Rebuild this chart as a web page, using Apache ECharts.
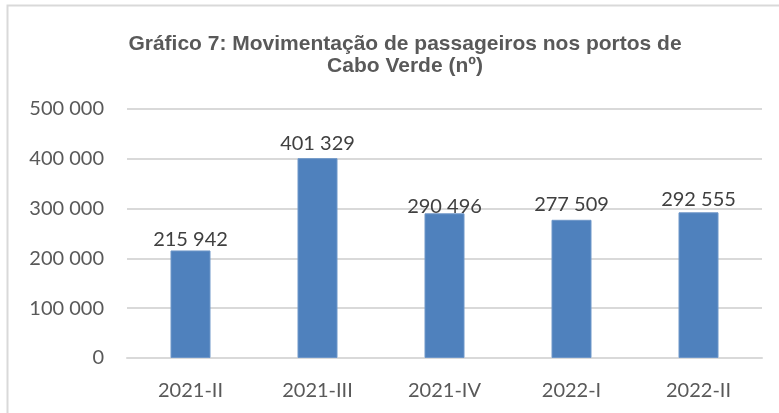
<!DOCTYPE html>
<html>
<head>
<meta charset="utf-8">
<script src="https://cdn.jsdelivr.net/npm/echarts@6/dist/echarts.min.js"></script>
<style>
  html, body { margin: 0; padding: 0; background: #fff; }
  #chart { width: 779px; height: 413px; }
</style>
</head>
<body>
<div id="chart"></div>
<script>
const categories = ['2021-II', '2021-III', '2021-IV', '2022-I', '2022-II'];
const passengers = [215942, 401329, 290496, 277509, 292555];

// "400 000" style thousands
const fmt = v => String(v).replace(/\B(?=(\d{3})+(?!\d))/g, ' ');

// small per-bar nudges so the labels sit like in the original
const labelGap = [1, 5, -3, 5, 3];

const myChart = echarts.init(document.getElementById('chart'));
myChart.setOption({
    animation: false,
    title: {
        text: 'Gráfico 7: Movimentação de passageiros nos portos de\nCabo Verde (nº)',
        left: 400,
        textAlign: 'center',
        top: 28,
        textStyle: {
            fontFamily: 'Liberation Sans',
            fontWeight: 'bold',
            fontSize: 21,
            lineHeight: 22,
            color: '#595959'
        }
    },
    graphic: [{
        type: 'rect',
        shape: {x: 7.5, y: 5.5, width: 800, height: 420},
        style: {fill: 'none', stroke: '#d9d9d9', lineWidth: 2}
    }],
    grid: {left: 127, right: 17, top: 109, bottom: 55},
    xAxis: {
        type: 'category',
        data: categories,
        axisLine: {lineStyle: {color: '#d9d9d9', width: 2}},
        axisTick: {show: false},
        axisLabel: {
            fontFamily: 'Lato',
            fontSize: 20,
            color: '#595959',
            margin: 23
        }
    },
    yAxis: {
        type: 'value',
        min: 0,
        max: 500000,
        interval: 100000,
        axisLine: {show: false},
        axisTick: {show: false},
        splitLine: {lineStyle: {color: '#d9d9d9', width: 2}},
        axisLabel: {
            fontFamily: 'Lato',
            fontSize: 20,
            color: '#595959',
            margin: 23,
            formatter: fmt
        }
    },
    series: [{
        type: 'bar',
        data: passengers.map((v, i) => ({value: v, label: {distance: labelGap[i]}})),
        barWidth: 40,
        itemStyle: {color: '#4f81bd', borderColor: '#6f97c9', borderWidth: 1},
        label: {
            show: true,
            position: 'top',
            fontFamily: 'Lato',
            fontSize: 20,
            color: '#404040',
            formatter: p => fmt(p.value)
        }
    }]
});
</script>
</body>
</html>
